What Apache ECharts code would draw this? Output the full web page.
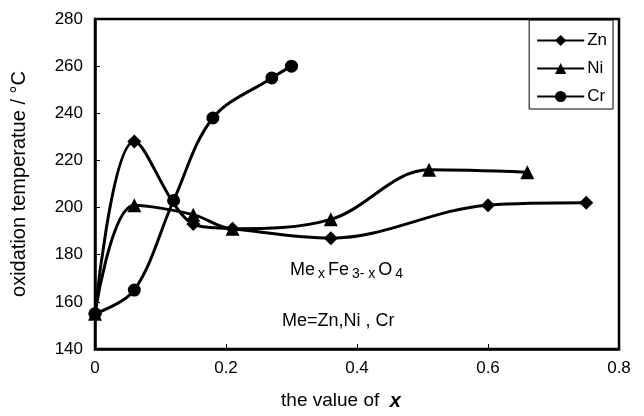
<!DOCTYPE html>
<html>
<head>
<meta charset="utf-8">
<script src="https://cdn.jsdelivr.net/npm/echarts@6/dist/echarts.min.js"></script>
<style>
  html, body { margin: 0; padding: 0; background: #fff; }
  #chart { width: 644px; height: 416px; }
</style>
</head>
<body>
<div id="chart"></div>
<script>
// values
var znX = [0, 0.06, 0.15, 0.21, 0.36, 0.6, 0.75];
var znY = [155, 228, 193, 191, 187, 201, 202];
var niX = [0, 0.06, 0.15, 0.21, 0.36, 0.51, 0.66];
var niY = [155, 201, 197, 191, 195, 216, 215];
var crX = [0, 0.06, 0.12, 0.18, 0.27, 0.3];
var crY = [155, 165, 203, 238, 255, 260];

function pairs(xs, ys) {
    var out = [];
    for (var i = 0; i < xs.length; i++) out.push([xs[i], ys[i]]);
    return out;
}

var font = '"Liberation Sans", Arial, sans-serif';
var chart = echarts.init(document.getElementById('chart'), null, { renderer: 'canvas' });

function line(name, symbol, size, data) {
    return {
        name: name,
        type: 'line',
        smooth: 0.35,
        symbol: symbol,
        symbolSize: size,
        data: data,
        lineStyle: { color: '#000', width: 3 },
        itemStyle: { color: '#000' }
    };
}

var option = {
    animation: false,
    textStyle: { fontFamily: font },
    grid: {
        left: 95, right: 25, top: 19, bottom: 62,
        show: true, borderColor: '#000', borderWidth: 2.5
    },
    legend: {
        orient: 'vertical',
        right: 31, top: 20,
        itemWidth: 47, itemHeight: 14, itemGap: 11,
        padding: [12, 6, 4, 7],
        borderColor: '#000', borderWidth: 1,
        textStyle: { fontFamily: font, fontSize: 17, color: '#000', padding: [0, 0, 0, -2] },
        data: ['Zn', 'Ni', 'Cr']
    },
    xAxis: {
        type: 'value',
        min: 0, max: 0.8, interval: 0.2,
        name: 'the value of  {b|x}',
        nameLocation: 'middle',
        nameGap: 42,
        nameTextStyle: {
            fontFamily: font, fontSize: 19, color: '#000',
            padding: [0, 32, 0, 0],
            rich: { b: { fontFamily: font, fontSize: 20, fontWeight: 'bold', fontStyle: 'italic', color: '#000' } }
        },
        axisLine: { lineStyle: { color: '#000', width: 2.5 } },
        axisTick: { inside: true, length: 5, lineStyle: { color: '#000' } },
        axisLabel: { fontFamily: font, fontSize: 17, color: '#000', margin: 11 },
        splitLine: { show: false }
    },
    yAxis: {
        type: 'value',
        min: 140, max: 280, interval: 20,
        name: 'oxidation temperatue / °C',
        nameLocation: 'middle',
        nameGap: 66,
        nameTextStyle: { fontFamily: font, fontSize: 20, color: '#000' },
        axisLine: { lineStyle: { color: '#000', width: 2.5 } },
        axisTick: { inside: true, length: 5, lineStyle: { color: '#000' } },
        axisLabel: { fontFamily: font, fontSize: 17, color: '#000', margin: 12 },
        splitLine: { show: false }
    },
    graphic: [
        {
            type: 'text', left: 290, top: 261,
            style: {
                text: 'Me{s|x}Fe{s|3- x}O{s|4}',
                font: '18px ' + font, fill: '#000',
                rich: { s: { fontSize: 14, fontFamily: font, verticalAlign: 'bottom', padding: [8, 3, 0, 3] } }
            }
        },
        {
            type: 'text', left: 282, top: 312,
            style: { text: 'Me=Zn,Ni , Cr', font: '18px ' + font, fill: '#000' }
        }
    ],
    series: [
        line('Zn', 'diamond', 14, pairs(znX, znY)),
        line('Ni', 'triangle', 14, pairs(niX, niY)),
        line('Cr', 'circle', 13, pairs(crX, crY))
    ]
};

chart.setOption(option);
</script>
</body>
</html>
